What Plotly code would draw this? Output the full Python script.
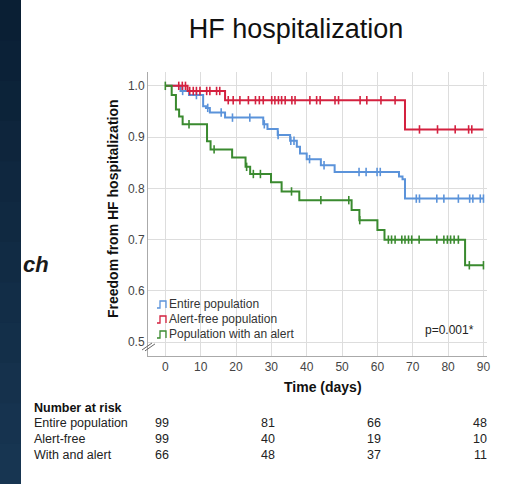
import numpy as np
import plotly.graph_objects as go

# ---------------- data ----------------
series_names = ["Entire population", "Alert-free population", "Population with an alert"]

entire_t = [0, 4.3, 6.7, 10.7, 11.5, 12.6, 16.9, 27.7, 28.9, 31.8, 35.3, 37.2, 38.1, 40.0, 44.0, 47.9, 66.1, 67.1, 67.8, 90]
entire_s = [1.0, 0.990, 0.982, 0.960, 0.957, 0.948, 0.938, 0.925, 0.916, 0.904, 0.893, 0.881, 0.868, 0.857, 0.845, 0.832, 0.823, 0.818, 0.780, 0.780]
entire_c = [4.9, 8.8, 12.0, 15.8, 19.0, 23.9, 28.0, 31.9, 35.5, 36.4, 40.8, 44.9, 54.8, 56.8, 59.9, 60.8,
            71.0, 71.9, 76.8, 78.8, 82.9, 86.1, 87.0, 89.1, 90.0]

free_t = [0, 6.3, 16.9, 67.8, 90]
free_s = [1.0, 0.990, 0.972, 0.915, 0.915]
free_c = [3.8, 4.8, 5.7, 6.9, 7.9, 8.8, 9.8, 11.7, 12.6, 14.5, 15.4, 17.8, 19.2, 21.1, 23.5, 25.5, 26.6, 27.7,
          30.1, 31.0, 32.0, 32.9, 33.9, 35.8, 36.7, 40.9, 42.8, 43.8, 48.0, 49.0, 55.1, 57.0, 61.0, 65.0,
          71.9, 77.0, 82.0, 85.8, 86.7]

alert_t = [0, 1.8, 3.0, 3.9, 4.9, 11.8, 12.8, 18.9, 22.7, 24.0, 29.9, 32.9, 37.9, 52.7, 54.9, 60.0, 62.0, 84.8, 90]
alert_s = [1.0, 0.982, 0.954, 0.940, 0.925, 0.892, 0.876, 0.860, 0.842, 0.828, 0.812, 0.794, 0.777, 0.758, 0.738,
           0.719, 0.700, 0.650, 0.650]
alert_c = [0, 6.7, 13.8, 23.0, 24.9, 26.9, 35.7, 44.0, 51.9, 55.0, 63.1, 64.0, 65.0, 66.9, 67.8, 68.8, 69.7, 71.8,
           76.8, 78.8, 79.8, 80.7, 81.7, 82.9, 86.0, 90.0]

colors = ["#5b93da", "#d4213f", "#3a8a2f"]

x_ticks = [0, 10, 20, 30, 40, 50, 60, 70, 80, 90]
y_ticks = [0.5, 0.6, 0.7, 0.8, 0.9, 1.0]

risk_labels = ["Entire population", "Alert-free", "With and alert"]
risk_times = [0, 30, 60, 90]
risk_entire = [99, 81, 66, 48]
risk_free = [99, 40, 19, 10]
risk_alert = [66, 48, 37, 11]

p_text = "p=0.001*"

# ---------------- layout geometry ----------------
W, H = 508, 484
L, R, T, B = 148, 21, 72, 128
PW, PH = W - L - R, H - T - B

def px(x):  # pixel x -> paper
    return (x - L) / PW

def py(y):  # pixel y -> paper
    return (H - B - y) / PH

FONT = "Liberation Sans, Arial, sans-serif"

fig = go.Figure()

def surv_at(t_list, s_list, c):
    idx = np.searchsorted(np.array(t_list), np.array(c), side="right") - 1
    return [s_list[i] for i in idx]

for name, t, s, c, col in [
    (series_names[0], entire_t, entire_s, entire_c, colors[0]),
    (series_names[1], free_t, free_s, free_c, colors[1]),
    (series_names[2], alert_t, alert_s, alert_c, colors[2]),
]:
    fig.add_trace(go.Scatter(x=t, y=s, mode="lines", line=dict(color=col, width=2, shape="hv"),
                             name=name, showlegend=False, hoverinfo="skip"))
    fig.add_trace(go.Scatter(x=c, y=surv_at(t, s, c), mode="markers",
                             marker=dict(symbol="line-ns-open", size=6, color=col,
                                         line=dict(color=col, width=1.6)),
                             showlegend=False, hoverinfo="skip"))

annotations = []
shapes = []

# left dark strip (slide background); each band runs to the bottom so no seams show
top_c = np.array([0x0a, 0x1f, 0x33])
bot_c = np.array([0x18, 0x36, 0x53])
nb = 12
for i in range(nb):
    f = (i + 0.5) / nb
    cc = (top_c * (1 - f) + bot_c * f).astype(int)
    shapes.append(dict(type="rect", xref="paper", yref="paper", x0=px(0), x1=px(21),
                       y0=py(H + 2), y1=py(H * i / nb - (2 if i == 0 else 0)),
                       fillcolor="#%02x%02x%02x" % tuple(cc), line=dict(width=0), layer="below"))

annotations.append(dict(text="<b><i>ch</i></b>", xref="paper", yref="paper", x=px(21), y=py(264),
                        xanchor="left", yanchor="middle", showarrow=False,
                        font=dict(family=FONT, size=22, color="#1a1a1a")))

# y-axis break marks
for dx in (0, 3):
    shapes.append(dict(type="line", xref="paper", yref="paper",
                       x0=px(142 + dx), y0=py(350 + dx * 0.3), x1=px(152 + dx), y1=py(343 + dx * 0.3),
                       line=dict(color="#666", width=1)))

# axis titles
annotations.append(dict(text="<b>Freedom from HF hospitalization</b>", xref="paper", yref="paper",
                        x=px(113), y=py(209), textangle=-90, showarrow=False,
                        xanchor="center", yanchor="middle",
                        font=dict(family=FONT, size=14, color="#111")))
annotations.append(dict(text="<b>Time (days)</b>", xref="paper", yref="paper",
                        x=px(323), y=py(387), showarrow=False, xanchor="center", yanchor="middle",
                        font=dict(family=FONT, size=14, color="#111")))

# legend (manual)
for i, (nm, col) in enumerate(zip(series_names, colors)):
    yc = 304 + 15 * i
    shapes.append(dict(type="path", xref="paper", yref="paper",
                       path="M %f,%f L %f,%f L %f,%f L %f,%f L %f,%f" % (
                           px(157), py(yc + 4), px(160), py(yc + 4), px(160), py(yc - 3),
                           px(166), py(yc - 3), px(166), py(yc + 4)),
                       line=dict(color=col, width=1.3)))
    annotations.append(dict(text=nm, xref="paper", yref="paper", x=px(167), y=py(yc),
                            xanchor="left", yanchor="middle", showarrow=False,
                            font=dict(family=FONT, size=12, color="#333")))

annotations.append(dict(text=p_text, x=80.3, y=0.524, xref="x", yref="y", showarrow=False,
                        xanchor="center", yanchor="middle", font=dict(family=FONT, size=12, color="#222")))

# number at risk table
annotations.append(dict(text="<b>Number at risk</b>", xref="paper", yref="paper", x=px(32), y=py(408),
                        xanchor="left", yanchor="middle", showarrow=False,
                        font=dict(family=FONT, size=12.5, color="#111")))
for r, (lab, vals) in enumerate(zip(risk_labels, [risk_entire, risk_free, risk_alert])):
    yy = py(423 + 15.8 * r)
    annotations.append(dict(text=lab, xref="paper", yref="paper", x=px(32), y=yy,
                            xanchor="left", yanchor="middle", showarrow=False,
                            font=dict(family=FONT, size=12.5, color="#222")))
    for tt, v in zip(risk_times, vals):
        annotations.append(dict(text=str(v), xref="x", yref="paper", x=tt, y=yy, xshift=-3,
                                xanchor="center", yanchor="middle", showarrow=False,
                                font=dict(family=FONT, size=12.5, color="#222")))

fig.update_layout(
    width=W, height=H,
    margin=dict(l=L, r=R, t=T, b=B),
    paper_bgcolor="white", plot_bgcolor="white",
    title=dict(text="HF hospitalization", x=296 / W, xref="container", xanchor="center",
               y=1 - 29 / H, yref="container", yanchor="middle",
               font=dict(family=FONT, size=27, color="#111")),
    xaxis=dict(range=[-4.9, 91], tickvals=x_ticks, showgrid=True, gridcolor="#dddddd", gridwidth=1,
               zeroline=False, showline=True, linecolor="#aaaaaa", linewidth=1, ticks="",
               tickfont=dict(family=FONT, size=12, color="#444")),
    yaxis=dict(range=[0.473, 1.027], tickvals=y_ticks, ticktext=["0.5", "0.6", "0.7", "0.8", "0.9", "1.0"],
               showgrid=True, gridcolor="#dddddd", gridwidth=1,
               zeroline=False, showline=True, linecolor="#aaaaaa", linewidth=1, ticks="",
               tickfont=dict(family=FONT, size=12, color="#444")),
    annotations=annotations, shapes=shapes, showlegend=False,
)

fig.write_html("out.html", config={"displayModeBar": False},
               post_script="document.body.style.margin='0';document.body.style.padding='0';"
                           "document.body.style.overflow='hidden';")
